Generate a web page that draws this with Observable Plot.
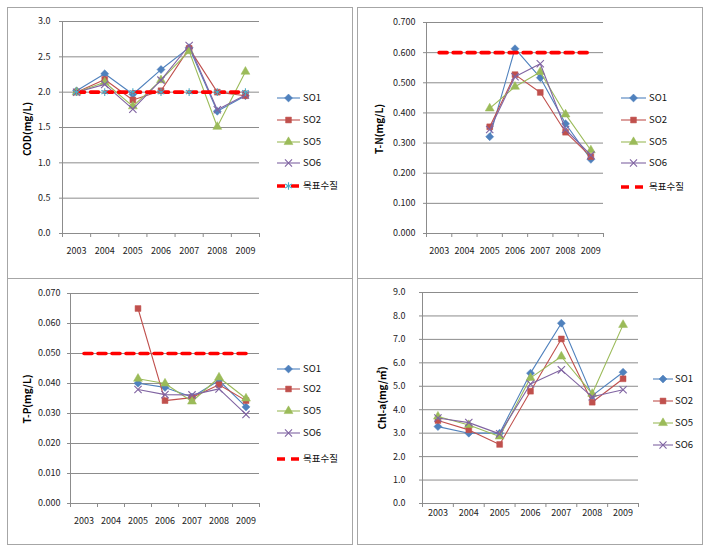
<!DOCTYPE html>
<html><head><meta charset="utf-8">
<script src="https://cdn.jsdelivr.net/npm/d3@7"></script>
<script src="https://cdn.jsdelivr.net/npm/@observablehq/plot@0.6"></script>
<style>
body{margin:0;background:#fff;}
#root{position:relative;width:712px;height:549px;overflow:hidden;background:#fff;font-family:'Noto Sans CJK KR','Noto Sans',sans-serif;}
.panel{position:absolute;box-sizing:border-box;border:1px solid #a6a6a6;}
.chart{position:absolute;}
.ytitle{position:absolute;font-weight:bold;font-size:10px;white-space:nowrap;transform:translate(-50%,-50%) rotate(-90deg);color:#000;line-height:1;}
.item{position:absolute;font-size:9.5px;white-space:nowrap;color:#111;line-height:1;transform:translateY(-50%);}
.sw{position:absolute;overflow:visible;}
</style></head>
<body><div id="root"></div>
<script>
// ---------- data ----------
const years = [2003, 2004, 2005, 2006, 2007, 2008, 2009];
const seriesNames = ["SO1", "SO2", "SO5", "SO6"];
const targetName = "목표수질";

// COD (mg/L)
const codSO1 = [2.02, 2.26, 1.97, 2.32, 2.63, 1.73, 1.95];
const codSO2 = [2.00, 2.18, 1.89, 2.02, 2.62, 2.00, 1.95];
const codSO5 = [2.00, 2.14, 1.80, 2.17, 2.58, 1.51, 2.29];
const codSO6 = [2.00, 2.11, 1.76, 2.17, 2.66, 1.75, 1.96];
const codTarget = [2.0, 2.0, 2.0, 2.0, 2.0, 2.0, 2.0];
const codTicks = [0, 0.5, 1.0, 1.5, 2.0, 2.5, 3.0];

// T-N (mg/L)
const tnSO1 = [null, null, 0.321, 0.613, 0.517, 0.364, 0.246];
const tnSO2 = [null, null, 0.354, 0.527, 0.468, 0.336, 0.255];
const tnSO5 = [null, null, 0.415, 0.487, 0.536, 0.395, 0.276];
const tnSO6 = [null, null, 0.345, 0.520, 0.563, 0.345, 0.260];
const tnTarget = [0.6, 0.6, 0.6, 0.6, 0.6, 0.6, 0.6];
const tnTicks = [0, 0.1, 0.2, 0.3, 0.4, 0.5, 0.6, 0.7];

// T-P (mg/L)
const tpSO1 = [null, null, 0.0401, 0.0387, 0.0355, 0.0410, 0.0322];
const tpSO2 = [null, null, 0.0650, 0.0343, 0.0353, 0.0396, 0.0343];
const tpSO5 = [null, null, 0.0416, 0.0400, 0.0340, 0.0420, 0.0350];
const tpSO6 = [null, null, 0.0380, 0.0363, 0.0362, 0.0382, 0.0297];
const tpTarget = [0.05, 0.05, 0.05, 0.05, 0.05, 0.05, 0.05];
const tpTicks = [0, 0.01, 0.02, 0.03, 0.04, 0.05, 0.06, 0.07];

// Chl-a (mg/m3)
const chlSO1 = [3.28, 3.00, 3.00, 5.56, 7.69, 4.60, 5.60];
const chlSO2 = [3.54, 3.14, 2.52, 4.79, 7.02, 4.32, 5.32];
const chlSO5 = [3.71, 3.35, 2.86, 5.36, 6.27, 4.68, 7.62];
const chlSO6 = [3.65, 3.45, 2.97, 5.10, 5.70, 4.55, 4.85];
const chlTicks = [0, 1, 2, 3, 4, 5, 6, 7, 8, 9];

// ---------- styles ----------
const colors = {SO1: "#4F81BD", SO2: "#C0504D", SO5: "#9BBB59", SO6: "#8064A2"};
const symbols = {SO1: "diamond2", SO2: "square", SO5: "triangle", SO6: "times"};
const d3symbols = {SO1: d3.symbolDiamond2, SO2: d3.symbolSquare, SO5: d3.symbolTriangle, SO6: d3.symbolTimes};
const gridColor = "#8c8c8c";

const panels = [
  {title: "COD(mg/L)", series: [codSO1, codSO2, codSO5, codSO6], target: codTarget, star: true,
   ticks: codTicks, fmt: ".1f", left: 7, top: 7, w: 346, h: 272, ml: 55, mr: 94, mt: 14, mb: 46,
   ypad: 9, xpad: 14, titleX: 27, titleY: 129,
   leg: {x1: 277, x2: 300, tx: 303, rows: [98, 120, 142, 163, 186]}},
  {title: "T-N(mg/L)", series: [tnSO1, tnSO2, tnSO5, tnSO6], target: tnTarget, star: false,
   ticks: tnTicks, fmt: ".3f", left: 357, top: 7, w: 346, h: 272, ml: 69, mr: 100, mt: 15, mb: 46,
   ypad: 8, xpad: 14, titleX: 379, titleY: 129,
   leg: {x1: 621, x2: 646, tx: 649, rows: [98, 120, 142, 163, 187]}},
  {title: "T-P(mg/L)", series: [tpSO1, tpSO2, tpSO5, tpSO6], target: tpTarget, star: false,
   ticks: tpTicks, fmt: ".3f", left: 7, top: 278, w: 346, h: 267, ml: 63, mr: 94, mt: 15, mb: 42,
   ypad: 7, xpad: 14, titleX: 27, titleY: 399,
   leg: {x1: 277, x2: 300, tx: 303, rows: [369, 389, 411, 433, 459]}},
  {title: "Chl-a(mg/㎥)", series: [chlSO1, chlSO2, chlSO5, chlSO6], target: null, star: false,
   ticks: chlTicks, fmt: ".1f", left: 357, top: 278, w: 346, h: 267, ml: 65, mr: 65, mt: 14, mb: 42,
   ypad: 14, xpad: 6, titleX: 382, titleY: 398,
   leg: {x1: 653, x2: 673, tx: 675, rows: [379, 401, 423, 445]}}
];

const root = document.getElementById("root");
const bounds = years.map(y => y - 0.5).concat([years[years.length - 1] + 0.5]);

for (const p of panels) {
  const box = document.createElement("div");
  box.className = "panel";
  Object.assign(box.style, {left: p.left + "px", top: p.top + "px", width: p.w + "px", height: p.h + "px"});
  root.appendChild(box);

  const ymax = p.ticks[p.ticks.length - 1];
  const marks = [
    Plot.ruleY(p.ticks, {stroke: gridColor, strokeWidth: 1}),
    Plot.ruleX([bounds[0]], {y1: 0, y2: ymax, stroke: gridColor}),
    Plot.axisY({ticks: p.ticks, tickSize: 3, tickPadding: p.ypad, tickFormat: d3.format(p.fmt), label: null, stroke: gridColor, fill: "#222"}),
    Plot.axisX({ticks: bounds, tickSize: 4, tickFormat: () => "", label: null, stroke: gridColor}),
    Plot.axisX({ticks: years, tickSize: 0, tickPadding: p.xpad, tickFormat: d => String(d), label: null, fill: "#222"})
  ];
  seriesNames.forEach((name, i) => {
    const rows = years.map((yr, j) => ({year: yr, value: p.series[i][j]}));
    const pts = rows.filter(d => d.value != null);
    marks.push(Plot.line(rows, {x: "year", y: "value", stroke: colors[name], strokeWidth: 1.1, defined: d => d.value != null}));
    if (name === "SO6") {
      marks.push(Plot.dot(pts, {x: "year", y: "value", symbol: symbols[name], r: 3.4, stroke: colors[name], strokeWidth: 1.1, fill: "none"}));
    } else {
      marks.push(Plot.dot(pts, {x: "year", y: "value", symbol: symbols[name], r: name === "SO1" ? 3.6 : 3.3, fill: colors[name], stroke: colors[name], strokeWidth: 0.5}));
    }
  });
  if (p.target) {
    const trows = years.map((yr, j) => ({year: yr, value: p.target[j]}));
    marks.push(Plot.line(trows, {x: "year", y: "value", stroke: "#FF0000", strokeWidth: 3.6, strokeDasharray: "8,6"}));
    if (p.star) marks.push(Plot.dot(trows, {x: "year", y: "value", symbol: "asterisk", r: 3.6, stroke: "#4BACC6", strokeWidth: 1.1}));
  }

  const chart = Plot.plot({
    width: p.w, height: p.h,
    marginLeft: p.ml, marginRight: p.mr, marginTop: p.mt, marginBottom: p.mb,
    x: {domain: [bounds[0], bounds[bounds.length - 1]]},
    y: {domain: [0, ymax]},
    style: {fontFamily: "'Noto Sans CJK KR','Noto Sans',sans-serif", fontSize: "9px", background: "transparent", overflow: "visible"},
    marks
  });
  chart.classList.add("chart");
  Object.assign(chart.style, {position: "absolute", left: p.left + "px", top: p.top + "px"});
  root.appendChild(chart);

  const t = document.createElement("div");
  t.className = "ytitle";
  t.textContent = p.title;
  Object.assign(t.style, {left: p.titleX + "px", top: p.titleY + "px"});
  root.appendChild(t);

  // legend
  const items = seriesNames.slice();
  if (p.target) items.push(targetName);
  items.forEach((name, i) => {
    const y = p.leg.rows[i];
    const sw = d3.create("svg").attr("class", "sw")
      .attr("width", p.leg.x2 - p.leg.x1 + 8).attr("height", 12)
      .style("left", (p.leg.x1 - 4) + "px").style("top", (y - 6) + "px");
    const cx = (p.leg.x2 - p.leg.x1) / 2 + 4;
    if (name === targetName) {
      sw.append("line").attr("x1", 4).attr("x2", p.leg.x2 - p.leg.x1 + 4).attr("y1", 6).attr("y2", 6)
        .attr("stroke", "#FF0000").attr("stroke-width", 3.6).attr("stroke-dasharray", "8,6");
      if (p.star) sw.append("path").attr("d", d3.symbol(d3.symbolAsterisk, 3.6 * 3.6 * Math.PI)())
        .attr("transform", `translate(${cx},6)`).attr("stroke", "#4BACC6").attr("stroke-width", 1.1).attr("fill", "none");
    } else {
      sw.append("line").attr("x1", 4).attr("x2", p.leg.x2 - p.leg.x1 + 4).attr("y1", 6).attr("y2", 6)
        .attr("stroke", colors[name]).attr("stroke-width", 1.1);
      const r = name === "SO1" ? 3.6 : 3.3;
      const path = sw.append("path").attr("d", d3.symbol(d3symbols[name], r * r * Math.PI)())
        .attr("transform", `translate(${cx},6)`);
      if (name === "SO6") path.attr("stroke", colors[name]).attr("stroke-width", 1.1).attr("fill", "none");
      else path.attr("fill", colors[name]).attr("stroke", colors[name]).attr("stroke-width", 0.5);
    }
    root.appendChild(sw.node());
    const lab = document.createElement("div");
    lab.className = "item";
    lab.textContent = name;
    Object.assign(lab.style, {left: p.leg.tx + "px", top: y + "px"});
    root.appendChild(lab);
  });
}
</script>
</body></html>
